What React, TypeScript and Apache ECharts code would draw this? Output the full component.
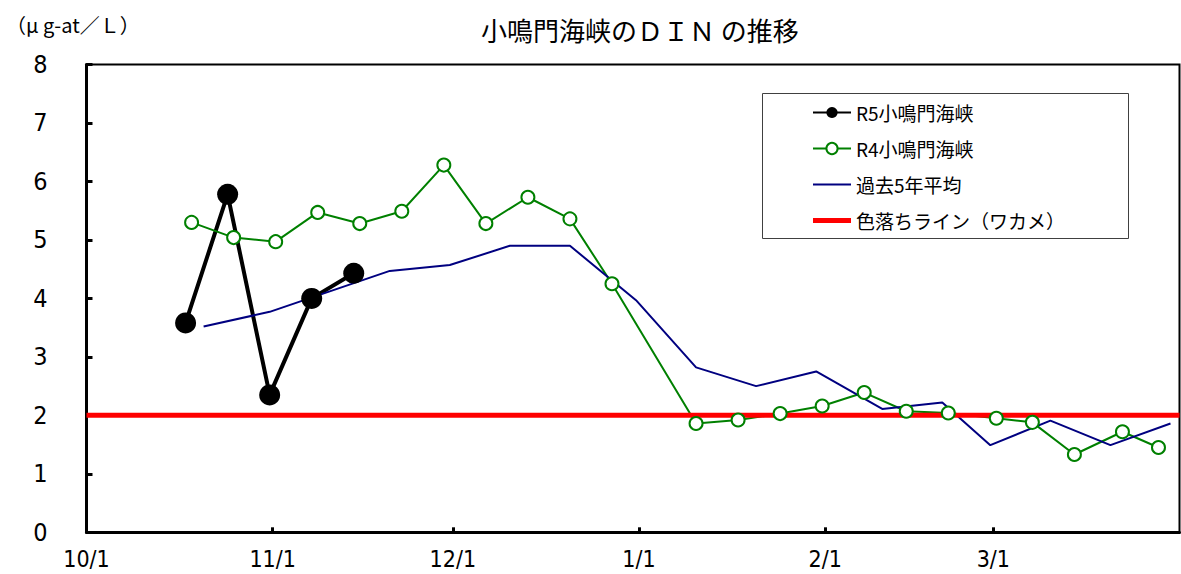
import React, { useEffect, useRef } from "react";
import * as echarts from "echarts";

// ---- texts ----
const TITLE = "小鳴門海峡のＤＩＮ の推移";
const UNIT_LABEL = "（μ g-at／Ｌ）";
const SERIES_NAMES = ["R5小鳴門海峡", "R4小鳴門海峡", "過去5年平均", "色落ちライン（ワカメ）"];

// ---- axes ----
const X_TICK_LABELS = ["10/1", "11/1", "12/1", "1/1", "2/1", "3/1"];
const X_START = "10/1";
const X_END = "4/1";
const Y_MIN = 0;
const Y_MAX = 8;
const Y_INTERVAL = 1;

// ---- data ----
const r5Dates = ["10/17", "10/24", "10/31", "11/7", "11/14"];
const r5Values = [3.58, 5.78, 2.35, 4.0, 4.43];

const r4Dates = [
  "10/18", "10/25", "11/1", "11/8", "11/15", "11/22", "11/29", "12/6", "12/13", "12/20", "12/27",
  "1/10", "1/17", "1/24", "1/31", "2/7", "2/14", "2/21", "3/1", "3/7", "3/14", "3/22", "3/28",
];
const r4Values = [
  5.3, 5.04, 4.97, 5.47, 5.28, 5.49, 6.28, 5.28, 5.73, 5.36, 4.25,
  1.86, 1.92, 2.03, 2.16, 2.39, 2.07, 2.04, 1.95, 1.88, 1.33, 1.72, 1.45,
];

const avgDates = [
  "10/20", "10/31", "11/20", "11/30", "12/10", "12/20", "12/31",
  "1/10", "1/20", "1/30", "2/10", "2/20", "2/28", "3/10", "3/20", "3/30",
];
const avgValues = [
  3.52, 3.77, 4.47, 4.57, 4.9, 4.9, 3.97,
  2.82, 2.5, 2.75, 2.11, 2.22, 1.49, 1.91, 1.49, 1.86,
];

const BLEACH_LEVEL = 2;

// season reference year (a season whose February has 28 days, as on the chart's axis)
const SEASON_START_YEAR = 2022;
function dayOf(md: string): number {
  const [m, d] = md.split("/").map(Number);
  const y = m >= 10 ? SEASON_START_YEAR : SEASON_START_YEAR + 1;
  return (Date.UTC(y, m - 1, d) - Date.UTC(SEASON_START_YEAR, 9, 1)) / 86400000;
}
// points sit in the middle of their day slot on the date axis
const slot = (md: string) => dayOf(md) + 0.5;

const CJK = "'Noto Sans CJK JP', 'Noto Sans', sans-serif";
const NUM = "'Liberation Sans Narrow', 'DejaVu Sans Condensed', 'Noto Sans CJK JP', sans-serif";
const GREEN = "#008000";
const NAVY = "#000080";
const RED = "#ff0000";

export default function App() {
  const ref = useRef<HTMLDivElement>(null);

  useEffect(() => {
    document.body.style.margin = "0";
    if (!ref.current) return;
    const chart = echarts.init(ref.current, undefined, { renderer: "svg" });

    const xMin = dayOf(X_START);
    const xMax = dayOf(X_END);
    const tickValues = X_TICK_LABELS.map(dayOf);

    const option: any = {
      animation: false,
      backgroundColor: "#ffffff",
      title: [
        {
          text: TITLE,
          left: 481,
          top: 16,
          padding: 0,
          textStyle: { fontFamily: CJK, fontSize: 26, fontWeight: "normal", color: "#000" },
        },
        {
          text: UNIT_LABEL,
          left: 6,
          top: 14,
          padding: 0,
          textStyle: { fontFamily: CJK, fontSize: 20, fontWeight: "normal", color: "#000" },
        },
      ],
      grid: {
        left: 86.5,
        right: 1.5,
        top: 64.5,
        bottom: 41.7,
        show: true,
        borderColor: "#000",
        borderWidth: 2,
        backgroundColor: "transparent",
      },
      xAxis: {
        type: "value",
        min: xMin,
        max: xMax,
        axisLine: { show: true, onZero: false, lineStyle: { color: "#000", width: 3 } },
        axisTick: {
          show: true,
          inside: true,
          length: 5,
          customValues: tickValues,
          lineStyle: { color: "#000", width: 3 },
        },
        axisLabel: {
          show: true,
          customValues: tickValues,
          formatter: (v: number) => {
            const i = tickValues.indexOf(v);
            return i >= 0 ? X_TICK_LABELS[i] : "";
          },
          margin: 15,
          fontSize: 23,
          fontFamily: NUM,
          color: "#000",
        },
        splitLine: { show: false },
      },
      yAxis: {
        type: "value",
        min: Y_MIN,
        max: Y_MAX,
        interval: Y_INTERVAL,
        axisLine: { show: true, lineStyle: { color: "#000", width: 3 } },
        axisTick: { show: true, inside: true, length: 6, lineStyle: { color: "#000", width: 3 } },
        axisLabel: { margin: 39, fontSize: 25, fontFamily: NUM, color: "#000" },
        splitLine: { show: false },
      },
      legend: {
        orient: "vertical",
        left: 812,
        top: 103,
        padding: 0,
        itemWidth: 38,
        itemHeight: 14,
        itemGap: 17,
        selectedMode: false,
        textStyle: { fontFamily: CJK, fontSize: 19, lineHeight: 19, color: "#000" },
        data: [
          { name: SERIES_NAMES[0] },
          { name: SERIES_NAMES[1] },
          { name: SERIES_NAMES[2], icon: "path://M0,0H38V2H0Z", itemStyle: { borderWidth: 0 } },
          { name: SERIES_NAMES[3], icon: "path://M0,0H38V5H0Z", itemStyle: { borderWidth: 0 } },
        ],
      },
      graphic: [
        {
          type: "rect",
          z: 1,
          shape: { x: 762.5, y: 93.5, width: 366, height: 145 },
          style: { fill: "#fff", stroke: "#404040", lineWidth: 1 },
        },
      ],
      series: [
        {
          name: SERIES_NAMES[0],
          type: "line",
          silent: true,
          data: r5Dates.map((d, i) => [slot(d), r5Values[i]]),
          color: "#000",
          lineStyle: { width: 4, color: "#000" },
          symbol: "circle",
          symbolSize: 21,
          itemStyle: { color: "#000" },
        },
        {
          name: SERIES_NAMES[1],
          type: "line",
          silent: true,
          data: r4Dates.map((d, i) => [slot(d), r4Values[i]]),
          color: GREEN,
          lineStyle: { width: 2, color: GREEN },
          symbol: "emptyCircle",
          symbolSize: 13,
          itemStyle: { color: GREEN, borderWidth: 1.5 },
        },
        {
          name: SERIES_NAMES[2],
          type: "line",
          silent: true,
          data: avgDates.map((d, i) => [slot(d), avgValues[i]]),
          color: NAVY,
          lineStyle: { width: 2, color: NAVY },
          symbol: "none",
          itemStyle: { color: NAVY },
        },
        {
          name: SERIES_NAMES[3],
          type: "line",
          silent: true,
          data: [
            [xMin, BLEACH_LEVEL],
            [xMax, BLEACH_LEVEL],
          ],
          color: RED,
          lineStyle: { width: 5, color: RED },
          symbol: "none",
          itemStyle: { color: RED },
        },
      ],
    };

    chart.setOption(option);
    return () => {
      chart.dispose();
    };
  }, []);

  return <div ref={ref} style={{ width: 1181, height: 574 }} />;
}
